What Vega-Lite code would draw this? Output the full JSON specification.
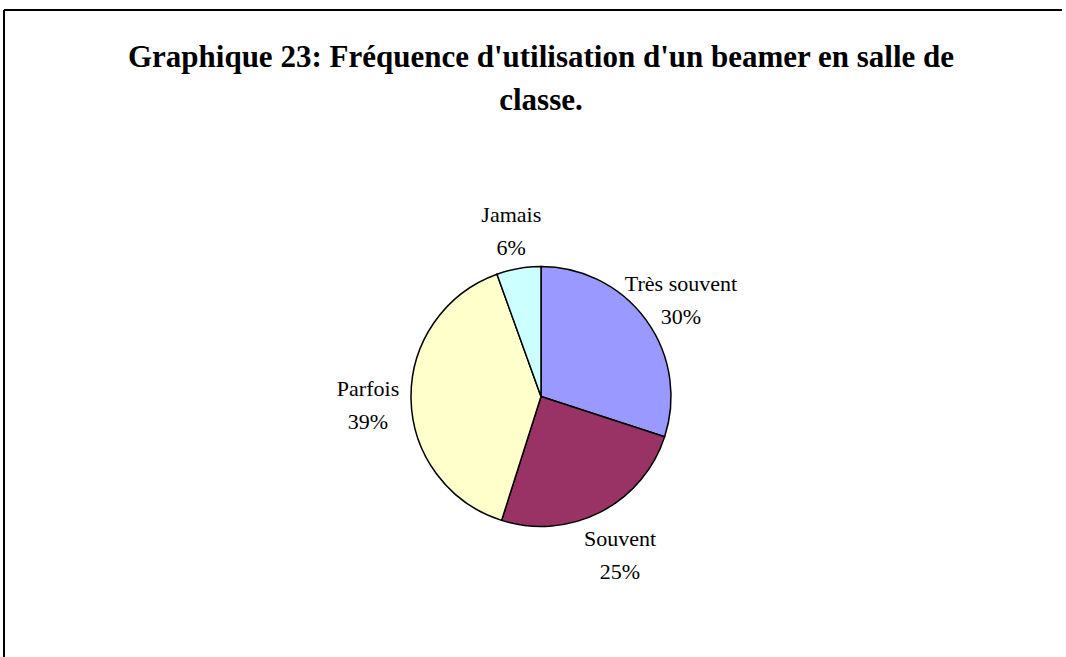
{
  "$schema": "https://vega.github.io/schema/vega-lite/v6.json",
  "width": 1062,
  "height": 647,
  "autosize": {"type": "none"},
  "padding": {"left": 4, "top": 10, "right": 0, "bottom": 0},
  "background": "white",
  "view": {"stroke": "black", "strokeWidth": 2, "strokeOpacity": 1, "strokeDash": [1058, 1713, 647, 0]},
  "config": {
    "font": "Liberation Serif"
  },
  "title": {
    "text": ["Graphique 23: Fréquence d'utilisation d'un beamer en salle de", "classe."],
    "font": "Liberation Serif",
    "fontSize": 31,
    "fontWeight": "bold",
    "lineHeight": 43,
    "color": "black",
    "anchor": "middle",
    "frame": "group",
    "dx": 6,
    "offset": -107
  },
  "data": {
    "values": [
      {"categorie": "Très souvent", "valeur": 30.0, "ordre": 1, "etiquette": ["Très souvent", "30%"]},
      {"categorie": "Souvent", "valeur": 24.9, "ordre": 2, "etiquette": ["Souvent", "25%"]},
      {"categorie": "Parfois", "valeur": 39.6, "ordre": 3, "etiquette": ["Parfois", "39%"]},
      {"categorie": "Jamais", "valeur": 5.5, "ordre": 4, "etiquette": ["Jamais", "6%"]}
    ]
  },
  "encoding": {
    "theta": {"field": "valeur", "type": "quantitative", "stack": true},
    "order": {"field": "ordre", "type": "quantitative"}
  },
  "layer": [
    {
      "mark": {"type": "arc", "radius": 130, "stroke": "black", "strokeWidth": 1.5,
               "x": {"expr": "width/2 + 6"}, "y": {"expr": "height/2 + 63"}},
      "encoding": {
        "color": {
          "field": "categorie", "type": "nominal",
          "scale": {"domain": ["Très souvent", "Souvent", "Parfois", "Jamais"],
                    "range": ["#9999FF", "#993366", "#FFFFCC", "#CCFFFF"]},
          "legend": null
        }
      }
    },
    {
      "mark": {"type": "text", "radius": 173, "fontSize": 22, "font": "Liberation Serif",
               "lineHeight": 33, "baseline": "middle", "align": "center", "color": "black",
               "dy": -11,
               "x": {"expr": "width/2 + 6"}, "y": {"expr": "height/2 + 63"}},
      "encoding": {
        "text": {"field": "etiquette", "type": "nominal"}
      }
    }
  ]
}
